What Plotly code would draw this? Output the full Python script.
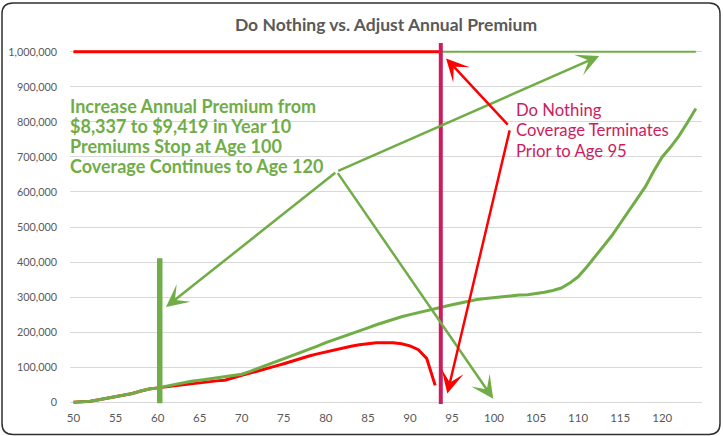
import plotly.graph_objects as go

# ---- data ----
ages = list(range(50, 125))

# cash value if the annual premium is adjusted (ages 50-124)
adjust_value = [
    0, 1000, 3000, 7000, 11000, 15000, 19000, 25000, 32000, 38000,
    41000, 46000, 52000, 55000, 60000, 63000, 66000, 70000, 73000, 76000,
    80000, 88000, 97000, 105000, 113000, 122000, 131000, 140000, 150000, 160000,
    170000, 178000, 187000, 195000, 203000, 212000, 221000, 229000, 237000, 244000,
    250000, 256000, 262000, 268000, 274000, 278000, 283000, 289000, 293000, 296000,
    299000, 302000, 305000, 306000, 307000, 310000, 314000, 319000, 326000, 340000,
    358000, 385000, 415000, 445000, 475000, 510000, 545000, 580000, 615000, 660000,
    700000, 728000, 760000, 798000, 838000,
]

# cash value if nothing is done (ages 50-93, lapses before 95)
do_nothing_ages = list(range(50, 94))
do_nothing_value = [
    0, 1000, 3000, 7000, 11000, 15000, 19000, 25000, 32000, 38000,
    41000, 44000, 48000, 51000, 54000, 57000, 59000, 61000, 63000, 71000,
    77000, 83000, 89000, 97000, 103000, 110000, 118000, 125000, 132000, 138000,
    144000, 150000, 155000, 160000, 164000, 168000, 170000, 170000, 170000, 167000,
    161000, 150000, 125000, 48000,
]

# death benefit lines
adjust_benefit_ages = [50, 124]
adjust_benefit = [1_000_000, 1_000_000]
do_nothing_benefit_ages = [50, 93.67]
do_nothing_benefit = [1_000_000, 1_000_000]

lapse_age = 93.67        # pink vertical marker
premium_change_age = 60.25
premium_bar_top = 411_000

x_ticks = [50, 55, 60, 65, 70, 75, 80, 85, 90, 95, 100, 105, 110, 115, 120]
y_ticks = [0, 100_000, 200_000, 300_000, 400_000, 500_000,
           600_000, 700_000, 800_000, 900_000, 1_000_000]

title = "Do Nothing vs. Adjust Annual Premium"
green_note = [
    "Increase Annual Premium from",
    "$8,337 to $9,419 in Year 10",
    "Premiums Stop at Age 100",
    "Coverage Continues to Age 120",
]
pink_note = ["Do Nothing", "Coverage Terminates", "Prior to Age 95"]

# ---- styling ----
GREEN = "#70AD47"
RED = "#FF0000"
PINK = "#CC1C5E"
GRID = "#D9D9D9"
TEXT = "#595959"

W, H = 723, 436
L, R, T, B = 70, 21, 43, 32
PW, PH = W - L - R, H - T - B
X_RANGE = [49.58, 124.73]
Y_RANGE = [-5000, 1_025_000]


def px_x(p):
    return (p - L) / PW


def px_y(p):
    return (H - B - p) / PH


def rounded_box(x0, y0, x1, y1, r):
    pts = [
        ("M", (x0 + r, y0)), ("L", (x1 - r, y0)), ("Q", (x1, y0), (x1, y0 + r)),
        ("L", (x1, y1 - r)), ("Q", (x1, y1), (x1 - r, y1)),
        ("L", (x0 + r, y1)), ("Q", (x0, y1), (x0, y1 - r)),
        ("L", (x0, y0 + r)), ("Q", (x0, y0), (x0 + r, y0)),
    ]
    out = []
    for cmd, *ps in pts:
        out.append(cmd + " ".join(f"{px_x(a):.5f},{px_y(b):.5f}" for a, b in ps))
    return " ".join(out) + " Z"


fig = go.Figure()

fig.add_trace(go.Scatter(
    x=adjust_benefit_ages, y=adjust_benefit, mode="lines",
    line=dict(color=GREEN, width=2.2), name="Adjust - Death Benefit",
))
fig.add_trace(go.Scatter(
    x=do_nothing_benefit_ages, y=do_nothing_benefit, mode="lines",
    line=dict(color=RED, width=3), name="Do Nothing - Death Benefit",
))
fig.add_trace(go.Scatter(
    x=do_nothing_ages, y=do_nothing_value, mode="lines",
    line=dict(color=RED, width=3), name="Do Nothing - Cash Value",
))
fig.add_trace(go.Scatter(
    x=ages, y=adjust_value, mode="lines",
    line=dict(color=GREEN, width=3), name="Adjust - Cash Value",
))

# vertical markers
fig.add_shape(type="line", xref="x", yref="y",
              x0=premium_change_age, x1=premium_change_age, y0=-3000, y1=premium_bar_top,
              line=dict(color=GREEN, width=5.5))
fig.add_shape(type="line", xref="x", yref="y",
              x0=lapse_age, x1=lapse_age, y0=Y_RANGE[0], y1=Y_RANGE[1],
              line=dict(color=PINK, width=4))

# chart border
fig.add_shape(type="path", xref="paper", yref="paper",
              path=rounded_box(2, 3, 720, 434.5, 11),
              line=dict(color="#303030", width=1.5), layer="above")

# arrows (tip at x/y, tail at ax/ay)
arrows = [
    (61.0, 272_000, 81.3, 658_000, GREEN),
    (112.5, 988_000, 81.3, 658_000, GREEN),
    (99.9, 10_000, 81.3, 658_000, GREEN),
    (94.3, 981_000, 101.8, 788_000, RED),
    (94.45, 25_000, 101.9, 780_000, RED),
]
for x, y, ax, ay, c in arrows:
    fig.add_annotation(
        x=x, y=y, ax=ax, ay=ay, xref="x", yref="y", axref="x", ayref="y",
        text="", showarrow=True, arrowhead=3, arrowsize=1.5, arrowwidth=2.5,
        arrowcolor=c, standoff=0,
    )

for i, line in enumerate(green_note):
    fig.add_annotation(
        x=px_x(68), y=px_y(105.5 + 20.2 * i), xref="paper", yref="paper",
        text=line, showarrow=False, xanchor="left", yanchor="middle",
        font=dict(family="Lato", size=18, color=GREEN, weight="bold"),
    )

for i, line in enumerate(pink_note):
    fig.add_annotation(
        x=px_x(514), y=px_y(110 + 20.3 * i), xref="paper", yref="paper",
        text=line, showarrow=False, xanchor="left", yanchor="middle",
        font=dict(family="Lato", size=16.7, color=PINK),
    )

fig.update_xaxes(
    range=X_RANGE, tickvals=x_ticks, showgrid=False, zeroline=False,
    showline=False, ticks="", ticklabelstandoff=5, automargin=False,
    tickfont=dict(family="Lato", size=11.5, color=TEXT),
)
fig.update_yaxes(
    range=Y_RANGE, tickvals=y_ticks, tickformat=",d", showgrid=True,
    gridcolor=GRID, gridwidth=1, zeroline=False, showline=False, ticks="",
    tickfont=dict(family="Lato", size=10.8, color=TEXT), ticklabelstandoff=12,
    automargin=False,
)

fig.update_layout(
    width=W, height=H,
    margin=dict(l=L, r=R, t=T, b=B, pad=0),
    paper_bgcolor="white", plot_bgcolor="white",
    showlegend=False,
    title=dict(
        text=title, x=0.5, xref="paper", xanchor="center",
        y=1 - 25 / H, yref="container", yanchor="middle",
        font=dict(family="Lato", size=17.5, color=TEXT, weight="bold"),
    ),
)

# the page's default 8px body margin would shift the figure off the window
fig.write_html(
    "out.html",
    config={"displayModeBar": False},
    post_script="document.body.style.margin='0';",
)
